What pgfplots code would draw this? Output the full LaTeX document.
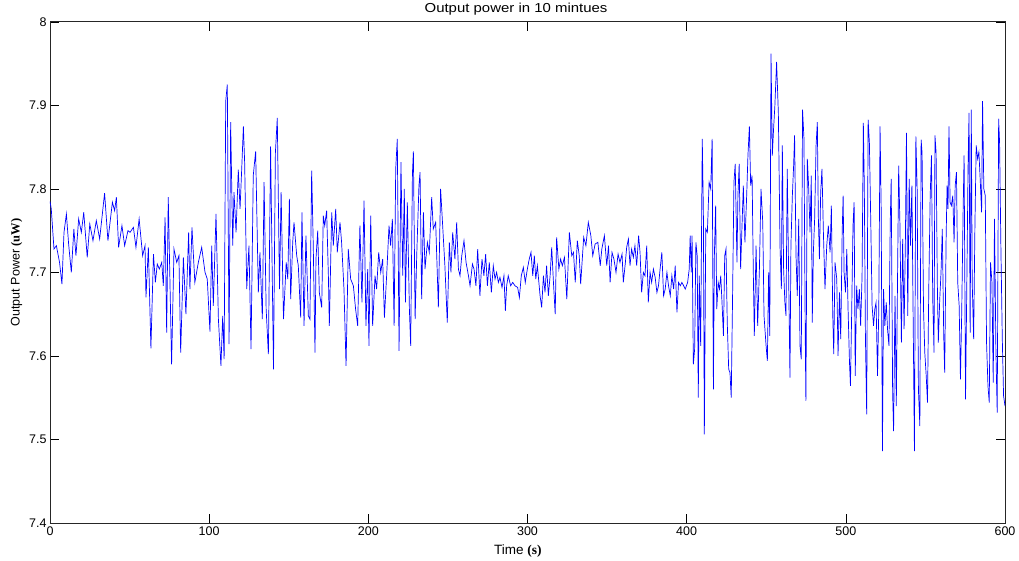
\documentclass[border=0pt]{standalone}
\usepackage{pgfplots}
\pgfplotsset{compat=1.18}
\usepackage{fontspec}
\setmainfont{Liberation Sans}
\newfontfamily\tnr{Liberation Serif}
\begin{document}
\begin{tikzpicture}
\begin{axis}[
  scale only axis, width=955pt, height=501pt,
  xmin=0, xmax=600, ymin=7.4, ymax=8,
  xtick={0,100,200,300,400,500,600},
  ytick={7.4,7.5,7.6,7.7,7.8,7.9,8},
  yticklabels={7.4,7.5,7.6,7.7,7.8,7.9,8},
  /pgf/number format/assume math mode=true,
  ticklabel style={font=\fontsize{12.5}{13}\selectfont},
  major tick length=9pt,
  tick style={black, line width=0.6pt},
  axis line style={black!85, line width=0.8pt},
  tick align=inside,
  title={\scalebox{1.15}[1]{Output power in 10 mintues}},
  title style={at={(axis description cs:0.488,1.013)}, anchor=center, font=\fontsize{13}{13}\selectfont},
  xlabel={Time {\tnr\bfseries (s)}},
  xlabel style={at={(axis description cs:0.49,-0.056)}, anchor=center, font=\fontsize{13.5}{14}\selectfont},
  ylabel={Output Power {\tnr\bfseries (uW)}},
  ylabel style={at={(axis description cs:-0.035,0.5)}, anchor=center, font=\fontsize{12.5}{13}\selectfont},
]
\addplot[color=blue, line width=0.7pt] coordinates {
(0,7.785) (0.8,7.776) (2.5,7.728) (4,7.732) (6,7.712) (7.5,7.686) (8.8,7.748) (10.3,7.770) (11.7,7.734) (13.4,7.700)
(15,7.752) (16.3,7.720) (18,7.764) (19.7,7.748) (21.2,7.772) (23.4,7.718) (25,7.758) (27,7.738) (29.1,7.762) (31.2,7.740)
(34.3,7.795) (36.4,7.738) (39.2,7.784) (40.6,7.774) (41.7,7.790) (43.1,7.730) (45.2,7.756) (46.9,7.732) (49,7.750)
(50.3,7.748) (52.4,7.754) (54,7.730) (56,7.764) (58.2,7.720) (59.7,7.732) (60.3,7.670) (61.8,7.730) (63.4,7.609) (65,7.722)
(66.2,7.688) (67.4,7.710) (68.7,7.704) (70.2,7.712) (71.2,7.684) (72.3,7.766) (73.3,7.628) (74.3,7.790) (76.4,7.590) (77.9,7.728)
(79.6,7.712) (81,7.720) (82.1,7.604) (83.8,7.718) (85.4,7.650) (87.1,7.748) (87.9,7.680) (89.2,7.754) (91,7.688) (93.2,7.712)
(95.3,7.730) (97.4,7.700) (98.8,7.692) (100.5,7.629)
(101.6,7.732) (102.6,7.660) (104.3,7.770) (105.8,7.644) (107.4,7.588) (108.5,7.648) (109.4,7.596) (110.4,7.905) (111.4,7.925) (112.5,7.614)
(113.5,7.880) (114.8,7.732) (115.6,7.796) (116.9,7.748) (118.3,7.823) (119.4,7.776) (120.6,7.831) (121.5,7.875) (122.3,7.831) (123.6,7.680)
(125,7.732) (126.3,7.608) (127.7,7.816) (129.2,7.845) (130.9,7.676) (131.9,7.724) (133.4,7.644) (134.5,7.808) (135.8,7.656) (137.2,7.602)
(138.6,7.851) (140.4,7.584) (141.6,7.843) (142.8,7.885) (144.2,7.680) (145.2,7.796) (146.7,7.644) (148.4,7.712) (149.4,7.692) (150.4,7.788)
(151.2,7.668) (152.5,7.736) (153.3,7.760) (155,7.720) (156,7.708) (157.5,7.646) (158.3,7.772) (159.6,7.636) (160.8,7.744) (162.3,7.648)
(163.3,7.644) (164.4,7.822) (165.4,7.732) (166.5,7.604) (167.1,7.716) (168.2,7.750) (169.2,7.676) (170.7,7.658) (171.7,7.768) (172.6,7.756)
(173.8,7.774) (174.9,7.696) (175.5,7.636) (177,7.772) (178,7.732) (179.5,7.776) (180.5,7.724) (182.2,7.760) (183.2,7.736) (184.7,7.680)
(186,7.588) (187.4,7.728) (188.9,7.692) (190.6,7.684) (192,7.656) (193.3,7.636) (194.7,7.756) (196,7.664) (197.3,7.786) (198.5,7.636)
(199.6,7.704) (200.4,7.612) (201.5,7.768) (202.7,7.636) (204.2,7.696) (205.2,7.680) (206.5,7.724) (207.8,7.700) (209,7.716) (210.1,7.646)
(211.5,7.696) (213,7.756) (214,7.732) (215.1,7.764) (216.2,7.636) (217.2,7.824) (218.2,7.860) (219.3,7.606) (220.5,7.832) (221.6,7.696)
(222.6,7.800) (223.3,7.664) (224.5,7.784) (225.8,7.656) (226.6,7.612) (227.7,7.818) (228.3,7.845) (229.4,7.644) (230.4,7.720) (231.8,7.804)
(232.5,7.820) (233.5,7.668) (234.6,7.772) (235.6,7.704) (237.1,7.736) (238.3,7.724) (239.8,7.790) (240.8,7.752) (242.3,7.760) (244,7.658)
(245.4,7.800) (246.7,7.756) (248.1,7.708) (249.6,7.640) (250.9,7.736)
(251.9,7.700) (253,7.748) (254.4,7.716) (255.5,7.760) (256.6,7.704) (257.6,7.696) (258.7,7.720) (260.1,7.738) (261.4,7.712) (262.9,7.696)
(263.9,7.684) (265.4,7.710) (266.4,7.704) (267.6,7.684) (268.7,7.728) (270.1,7.672) (271.4,7.716) (272.6,7.696) (273.7,7.722) (274.8,7.684)
(276,7.712) (277.3,7.676) (278.5,7.708) (279.6,7.692) (280.6,7.700) (281.7,7.688) (282.7,7.694) (284,7.682) (285.2,7.696) (286.1,7.654)
(286.9,7.684) (287.9,7.696) (289.4,7.684) (290.7,7.688) (292.1,7.684) (293.8,7.682) (294.9,7.670) (296.1,7.696) (297.4,7.706) (298.6,7.688)
(299.9,7.704) (301.1,7.716) (302.2,7.724) (303.3,7.696) (304.3,7.720) (305.2,7.692) (306.2,7.708) (307.9,7.672) (308.9,7.658) (310,7.696)
(311,7.676) (312,7.708) (313.1,7.672) (314.2,7.696) (315.2,7.730) (316.3,7.688) (317.4,7.650) (318.3,7.742) (319.7,7.704) (320.8,7.716)
(321.9,7.708) (323.2,7.718) (324.7,7.668) (326.3,7.748) (327.8,7.720) (328.9,7.724) (330,7.688) (331.3,7.738) (332.5,7.720) (333.4,7.686)
(335.3,7.742) (336.7,7.732) (338.2,7.760) (339.8,7.744) (341,7.720) (342.5,7.734) (344.2,7.736) (345.7,7.708) (346.7,7.728) (348.3,7.744)
(349.8,7.708) (350.9,7.732) (351.9,7.688) (353.1,7.724) (354.3,7.716) (355.6,7.700) (356.9,7.722) (358.1,7.712) (359.4,7.722) (360.2,7.688)
(361.5,7.712) (362.3,7.730) (363.4,7.740) (364.4,7.708) (365.4,7.728) (366.5,7.718) (367.5,7.732) (368.6,7.708) (369.8,7.744) (370.7,7.724)
(371.7,7.676) (372.8,7.700) (373.8,7.696) (374.9,7.732) (375.9,7.664) (377,7.700) (378,7.688) (379.1,7.704) (380.2,7.694) (381.3,7.676)
(382.3,7.684) (383.3,7.704) (384.4,7.724) (385.5,7.672) (386.5,7.680) (387.6,7.700) (388.6,7.684) (389.7,7.672) (390.7,7.696) (391.8,7.680)
(392.8,7.708) (393.9,7.652) (394.9,7.688) (396,7.684) (397,7.688) (398.1,7.684) (399.1,7.680) (400.6,7.688) (401.6,7.704) (402.2,7.744)
(402.9,7.700) (403.4,7.744) (404.2,7.590) (405,7.608) (405.8,7.736) (406.6,7.720) (407.3,7.550) (407.9,7.696) (408.8,7.612) (409.8,7.860)
(410.5,7.772) (411.1,7.506) (412,7.752) (413,7.748) (414.1,7.808) (415.1,7.800) (416,7.860) (416.8,7.560) (417.4,7.720) (418.2,7.780)
(418.9,7.656) (419.8,7.688) (420.6,7.680) (421.4,7.696) (422.2,7.664) (423.1,7.624) (423.9,7.720) (424.7,7.728) (425.5,7.640) (426.4,7.584)
(427.2,7.580) (428,7.550) (428.9,7.680) (429.7,7.808) (430.5,7.830) (431.6,7.712) (432.2,7.792) (433,7.830) (433.9,7.704) (434.7,7.752)
(435.6,7.804) (436.6,7.736) (437.7,7.792) (438.5,7.840) (439.4,7.875) (440.2,7.804) (441.1,7.816) (441.9,7.696) (442.5,7.624) (443.6,7.732)
(444.6,7.636) (445.7,7.704) (446.7,7.800) (447.8,7.760) (448.6,7.648) (449.9,7.612) (450.7,7.594) (451.5,7.700) (452.2,7.624) (453,7.962)
(453.8,7.840) (454.6,7.872) (455.4,7.899) (456.5,7.952) (457.6,7.891) (458.7,7.728) (459.5,7.680) (460.1,7.852) (460.9,7.704) (461.7,7.664)
(462.4,7.648) (463.2,7.824) (464.1,7.692) (464.9,7.574) (465.5,7.732) (466.4,7.792) (467.2,7.828) (467.8,7.864) (468.7,7.720) (469.5,7.672)
(470.4,7.764) (471.2,7.612) (472,7.596) (472.8,7.895) (473.7,7.860) (474.5,7.624) (474.9,7.546) (475.8,7.836) (476.6,7.804) (477.5,7.748)
(478.3,7.816) (478.9,7.640) (479.6,7.724) (480.4,7.764) (481.3,7.852) (482.1,7.880) (482.7,7.768) (483.4,7.716) (484.2,7.796) (485,7.824)
(485.9,7.748) (486.9,7.680) (488,7.732) (489,7.756) (490.1,7.724) (490.9,7.780) (491.8,7.648) (492.4,7.602) (493.2,7.712) (494.3,7.692)
(495.1,7.600) (496,7.676) (496.8,7.620) (497.7,7.748) (498.3,7.792) (498.9,7.700) (499.8,7.676) (500.6,7.728) (501.4,7.656) (502.3,7.592)
(502.9,7.564) (503.7,7.656) (504.5,7.756) (505.2,7.784) (505.9,7.576) (506.8,7.684) (507.6,7.656) (508.5,7.680) (509.3,7.636) (510.2,7.696)
(511,7.879) (511.6,7.804) (512.3,7.624) (513.1,7.530) (514,7.883) (514.8,7.855) (515.7,7.756) (516.5,7.660) (517.4,7.636) (518.2,7.656)
(519,7.664) (519.9,7.576) (520.7,7.656) (521.5,7.875) (522.2,7.776) (523,7.486) (523.7,7.680) (524.5,7.636) (525.4,7.664) (526.2,7.632)
(527.1,7.612) (527.9,7.760) (528.5,7.812) (529.4,7.556) (530,7.510) (530.9,7.672) (531.7,7.540) (532.5,7.696) (533.2,7.828) (534,7.756)
(534.9,7.616) (535.7,7.740) (536.6,7.632) (537.4,7.736) (538.1,7.867) (538.9,7.648) (539.8,7.812) (540.6,7.732) (541.5,7.804) (542.3,7.644)
(543.1,7.486) (544,7.863) (544.8,7.800) (545.6,7.560) (546.5,7.516) (547.3,7.859) (547.9,7.843) (548.8,7.656) (549.6,7.604) (550.5,7.576)
(551.3,7.544) (552.1,7.680) (553,7.792) (553.8,7.840) (554.6,7.668) (555.4,7.604) (556,7.864) (556.7,7.844) (557.5,7.684) (558.1,7.616)
(559,7.668) (559.8,7.700) (560.6,7.752) (561.5,7.624) (562.1,7.580) (563,7.740) (563.6,7.804) (564.2,7.776) (564.8,7.875) (565.5,7.784)
(566.3,7.780) (567.2,7.792) (568,7.736) (568.7,7.804) (569.5,7.820) (570.3,7.688) (571.2,7.660) (572,7.572) (572.8,7.652) (573.7,7.776)
(574.3,7.840) (575.2,7.548) (576,7.684) (576.8,7.828) (577.4,7.891) (578.1,7.628) (578.8,7.895) (579.4,7.688) (580.3,7.620) (581.1,7.756)
(581.9,7.852) (582.8,7.836) (583.6,7.844) (584.4,7.812) (585.3,7.772) (585.9,7.905) (586.7,7.800) (587.6,7.792) (588.4,7.616) (589.3,7.564)
(590.1,7.544) (590.9,7.712) (591.8,7.688) (592.6,7.568) (593.4,7.764) (594.3,7.604) (595.1,7.532) (596,7.884) (596.6,7.855) (597.4,7.732)
(598.3,7.620) (599.1,7.552) (600,7.540)
};
\end{axis}
\path (current axis.south west) ++(-50pt,-37pt);
\path (current axis.north east) ++(14pt,16pt);
\end{tikzpicture}
\end{document}
